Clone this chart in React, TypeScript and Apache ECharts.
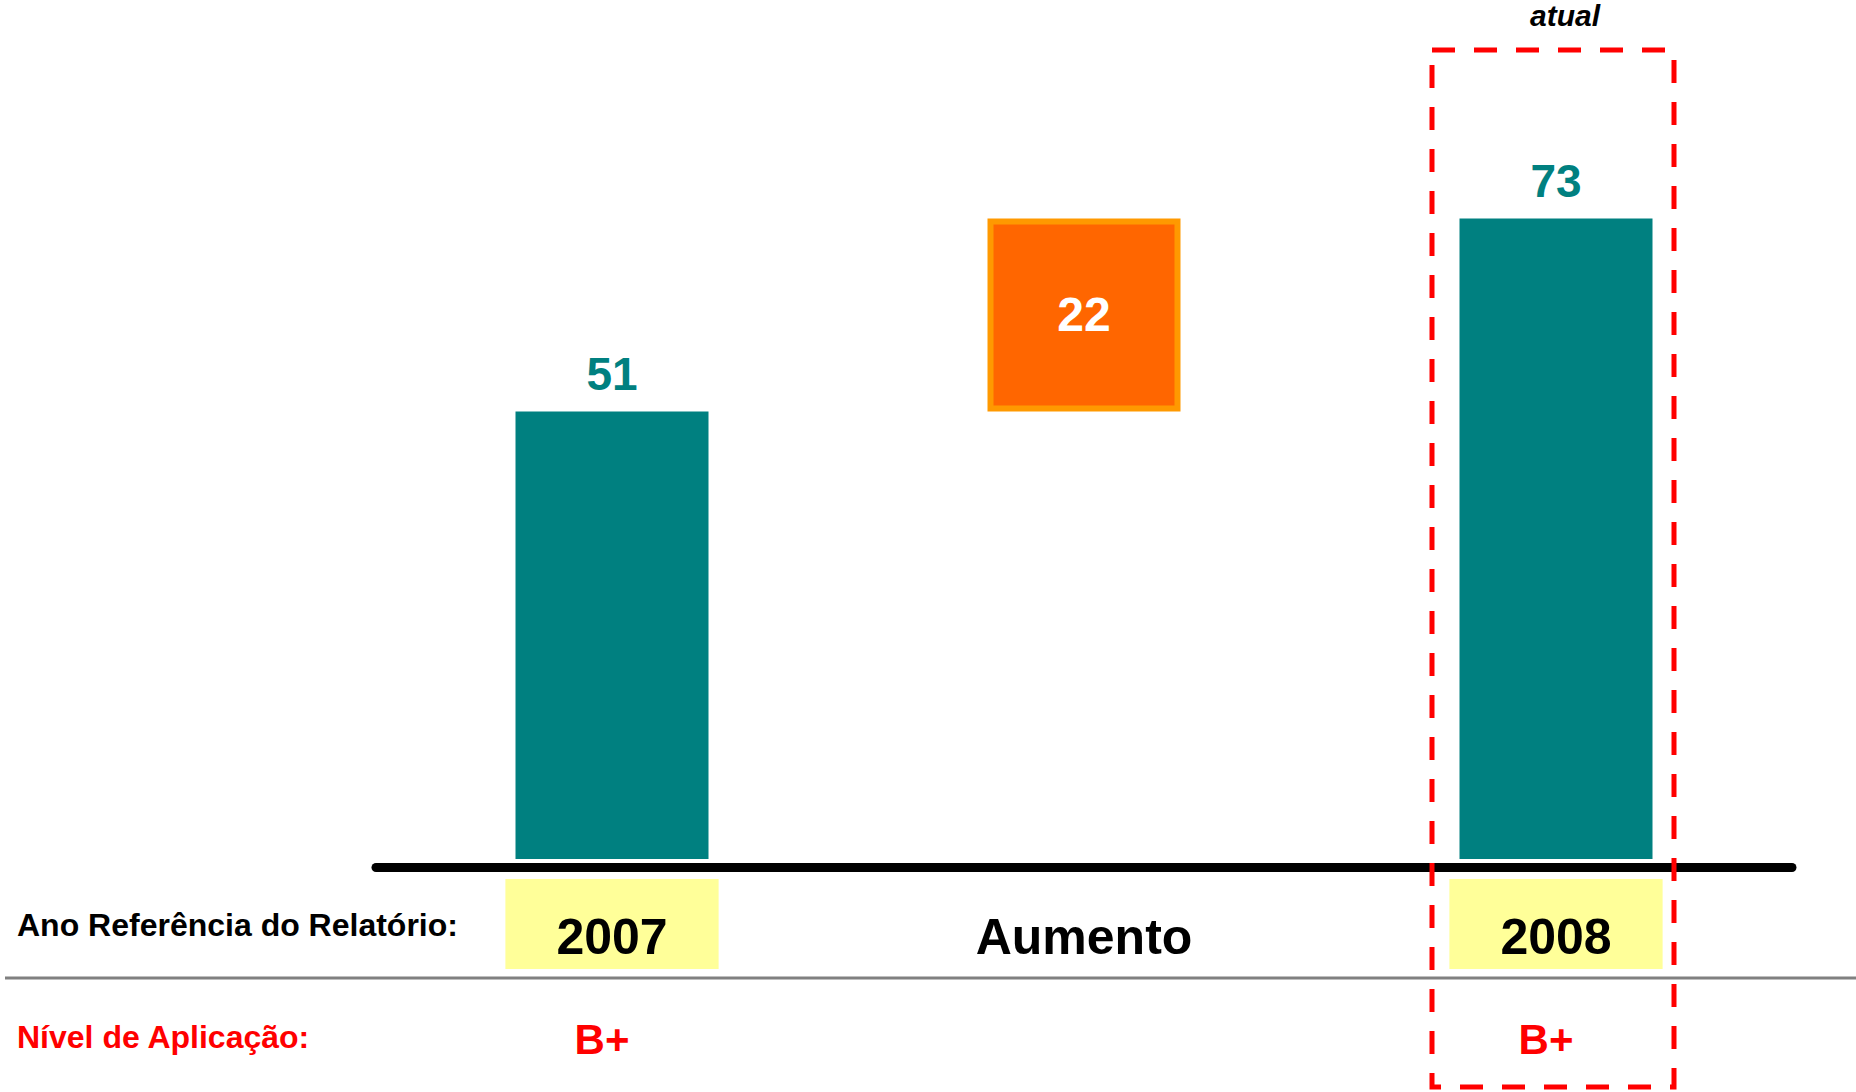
import React, { useEffect, useRef } from "react";
import * as echarts from "echarts";

const categories = ["2007", "Aumento", "2008"];
const baseValues = [0, 51, 0];
const visibleValues = [51, 22, 73];
const levels = ["B+", "", "B+"];
const rowLabels = ["Ano Referência do Relatório:", "Nível de Aplicação:"];
const highlightLabel = "atual";
const highlightCategory = "2008";

const FONT = "'Liberation Sans', Arial, Helvetica, sans-serif";
const TEAL = "#008080";

export default function App() {
  const ref = useRef<HTMLDivElement>(null);

  useEffect(() => {
    if (!ref.current) return;
    const chart = echarts.init(ref.current, undefined, { renderer: "svg" });

    const barData = visibleValues.map((v, i) => {
      if (categories[i] === "Aumento") {
        return {
          value: v,
          itemStyle: { color: "#FF6600", borderColor: "#FF9900", borderWidth: 6 },
          label: {
            show: true,
            position: "inside",
            color: "#FFFFFF",
            fontSize: 48,
            fontWeight: "bold",
            fontFamily: FONT,
          },
        };
      }
      return {
        value: v,
        itemStyle: { color: TEAL },
        label: {
          show: true,
          position: "top",
          distance: 14,
          color: TEAL,
          fontSize: 46,
          fontWeight: "bold",
          fontFamily: FONT,
        },
      };
    });

    chart.setOption({
      animation: false,
      backgroundColor: "#FFFFFF",
      grid: { left: 376, right: 64, top: 157, bottom: 233, containLabel: false },
      xAxis: [
        {
          type: "category",
          data: categories,
          position: "bottom",
          offset: 8,
          axisLine: { show: true, onZero: false, lineStyle: { color: "#000000", width: 9 } },
          axisTick: { show: false },
          axisLabel: {
            interval: 0,
            margin: 32,
            fontSize: 50,
            fontWeight: "bold",
            fontFamily: FONT,
            color: "#000000",
            formatter: (v: string) => (v === "Aumento" ? `{n|${v}}` : `{y|${v}}`),
            rich: {
              y: {
                backgroundColor: "#FFFF99",
                padding: [33, 51, 7, 51],
                fontSize: 50,
                lineHeight: 50,
                fontWeight: "bold",
                fontFamily: FONT,
                color: "#000000",
              },
              n: {
                padding: [33, 0, 7, 0],
                fontSize: 50,
                lineHeight: 50,
                fontWeight: "bold",
                fontFamily: FONT,
                color: "#000000",
              },
            },
          },
        },
        {
          type: "category",
          data: categories,
          position: "bottom",
          offset: 150,
          axisLine: { show: false, onZero: false },
          axisTick: { show: false },
          axisLabel: {
            interval: 0,
            margin: 9,
            fontSize: 42,
            fontWeight: "bold",
            fontFamily: FONT,
            color: "#FF0000",
            padding: [0, 20, 0, 0],
            formatter: (_v: string, i: number) => levels[i],
          },
        },
      ],
      yAxis: {
        type: "value",
        min: 0,
        max: 80,
        show: false,
        splitLine: { show: false },
      },
      series: [
        {
          type: "bar",
          stack: "w",
          barWidth: 193,
          xAxisIndex: 0,
          data: baseValues,
          itemStyle: { color: "rgba(0,0,0,0)" },
          silent: true,
        },
        {
          type: "bar",
          stack: "w",
          barWidth: 193,
          xAxisIndex: 0,
          data: barData,
        },
      ],
    });

    const cx = chart.convertToPixel({ xAxisIndex: 0 }, highlightCategory) as number;

    chart.setOption({
      graphic: [
        {
          type: "line",
          shape: { x1: 5, y1: 978, x2: 1856, y2: 978 },
          style: { stroke: "#808080", lineWidth: 3 },
          z: 5,
        },
        {
          type: "text",
          x: 17,
          y: 925,
          style: {
            text: rowLabels[0],
            fill: "#000000",
            font: `bold 32px ${FONT}`,
            verticalAlign: "middle",
            align: "left",
          },
        },
        {
          type: "text",
          x: 17,
          y: 1037,
          style: {
            text: rowLabels[1],
            fill: "#FF0000",
            font: `bold 32px ${FONT}`,
            verticalAlign: "middle",
            align: "left",
          },
        },
        {
          type: "rect",
          shape: { x: cx - 124, y: 50, width: 242, height: 1037 },
          style: { fill: "none", stroke: "#FF0000", lineWidth: 5, lineDash: [23, 19] },
          z: 100,
        },
        {
          type: "text",
          x: cx + 9,
          y: 15,
          style: {
            text: highlightLabel,
            fill: "#000000",
            font: `italic bold 30px ${FONT}`,
            verticalAlign: "middle",
            align: "center",
          },
        },
      ],
    });

    return () => {
      chart.dispose();
    };
  }, []);

  return (
    <div
      ref={ref}
      style={{ position: "fixed", left: 0, top: 0, width: 1856, height: 1092 }}
    />
  );
}
